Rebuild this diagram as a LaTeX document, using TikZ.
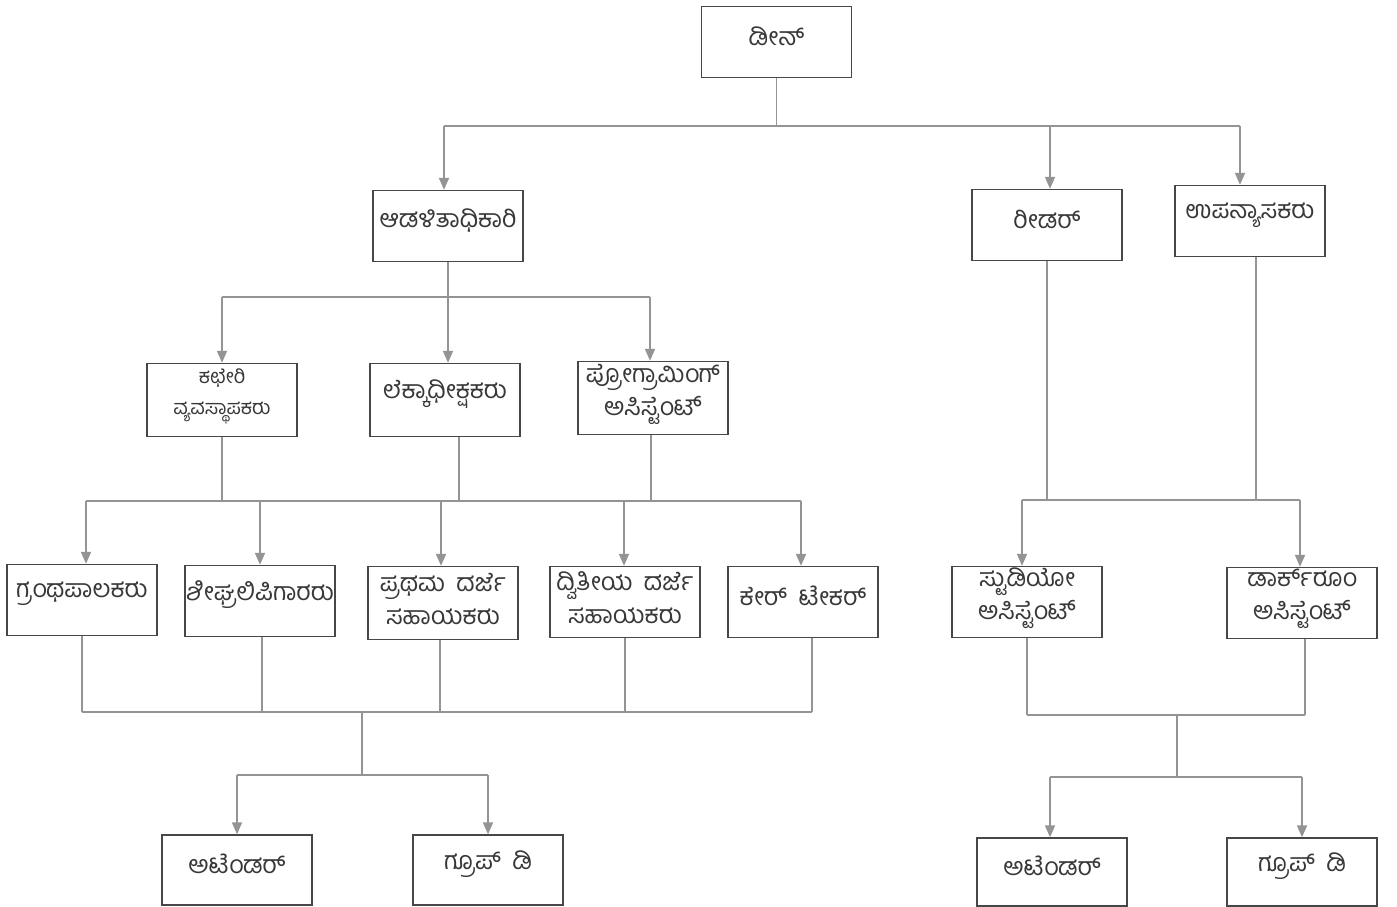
\documentclass[tikz,border=0pt]{standalone}
\usepackage{fontspec}
\newfontfamily\kn[Script=Kannada]{Hind Mysuru}
\usetikzlibrary{arrows.meta}
\newcommand{\wsp}{\hspace{0.45em}}
\begin{document}
\begin{tikzpicture}[x=1pt,y=-1pt,
  box/.style={draw=black!72,line width=1.4pt,minimum width=150pt,minimum height=71pt,inner sep=0pt},
  lbl/.style={inner sep=0pt,align=center,font=\kn\fontsize{25}{33}\selectfont,text=black!78,yshift=6pt},
  lbltwo/.style={lbl,yshift=-2pt},
  lblsmall/.style={lbl,font=\kn\fontsize{20}{31}\selectfont,yshift=-2pt},
  conn/.style={draw=black!42,line width=1.8pt},
  arr/.style={conn,-{Triangle[width=10pt,length=12pt]}}]
\useasboundingbox (0,0) rectangle (1397,906);
\fill[white] (0,0) rectangle (1397,906);
% boxes
\node[box,label={[lbl]center:ಡೀನ್}] (dean) at (776.5,42) {};
\node[box,label={[lbl]center:ಆಡಳಿತಾಧಿಕಾರಿ}] (admin) at (448,226) {};
\node[box,label={[lbl]center:ರೀಡರ್}] (reader) at (1047,225) {};
\node[box,label={[lbl]center:ಉಪನ್ಯಾಸಕರು}] (lect) at (1250,221) {};
\node[box,minimum height=73pt,label={[lblsmall]center:ಕಛೇರಿ\\ವ್ಯವಸ್ಥಾಪಕರು}] (office) at (222,400) {};
\node[box,minimum height=73pt,label={[lbl]center:ಲೆಕ್ಕಾಧೀಕ್ಷಕರು}] (acct) at (445,400) {};
\node[box,minimum height=73pt,label={[lbltwo]center:ಪ್ರೋಗ್ರಾಮಿಂಗ್\\ಅಸಿಸ್ಟೆಂಟ್}] (prog) at (653,398) {};
\node[box,label={[lbl]center:ಗ್ರಂಥಪಾಲಕರು}] (lib) at (82,600) {};
\node[box,label={[lbl]center:ಶೀಘ್ರಲಿಪಿಗಾರರು}] (steno) at (260,601) {};
\node[box,minimum height=73pt,label={[lbltwo]center:ಪ್ರಥಮ\wsp ದರ್ಜೆ\\ಸಹಾಯಕರು}] (fda) at (443,603) {};
\node[box,label={[lbltwo]center:ದ್ವಿತೀಯ\wsp ದರ್ಜೆ\\ಸಹಾಯಕರು}] (sda) at (625,602) {};
\node[box,label={[lbl]center:ಕೇರ್\wsp ಟೇಕರ್}] (care) at (803,602) {};
\node[box,label={[lbltwo]center:ಸ್ಟುಡಿಯೋ\\ಅಸಿಸ್ಟೆಂಟ್}] (studio) at (1027,602) {};
\node[box,label={[lbltwo]center:ಡಾರ್ಕ್‌ರೂಂ\\ಅಸಿಸ್ಟೆಂಟ್}] (dark) at (1302,603) {};
\node[box,minimum height=70pt,label={[lbl]center:ಅಟೆಂಡರ್}] (att1) at (237,870) {};
\node[box,minimum height=70pt,label={[lbl]center:ಗ್ರೂಪ್\wsp ಡಿ}] (grp1) at (488,870) {};
\node[box,minimum height=68pt,label={[lbl]center:ಅಟೆಂಡರ್}] (att2) at (1052,872) {};
\node[box,minimum height=68pt,label={[lbl]center:ಗ್ರೂಪ್\wsp ಡಿ}] (grp2) at (1302,872) {};
% junction coordinates
\coordinate (j1) at (776.5,126);
\coordinate (j2) at (448,297);
\coordinate (j3) at (459,501);
\coordinate (j4) at (362,712);
\coordinate (j5) at (362,775);
\coordinate (j6) at (1150,500);
\coordinate (j7) at (1177,715);
\coordinate (j8) at (1177,777);
% level 1
\draw[conn] (dean.south) -- (j1);
\draw[conn] ([xshift=-4pt]admin.north |- j1) -- ([xshift=-10pt]lect.north |- j1);
\draw[arr] ([xshift=-4pt]admin.north |- j1) -- ([xshift=-4pt]admin.north);
\draw[arr] ([xshift=3pt]reader.north |- j1) -- ([xshift=3pt]reader.north);
\draw[arr] ([xshift=-10pt]lect.north |- j1) -- ([xshift=-10pt]lect.north);
% level 2
\draw[conn] (admin.south) -- (j2);
\draw[conn] (office.north |- j2) -- ([xshift=-3pt]prog.north |- j2);
\draw[arr] (office.north |- j2) -- (office.north);
\draw[arr] ([xshift=3pt]acct.north |- j2) -- ([xshift=3pt]acct.north);
\draw[arr] ([xshift=-3pt]prog.north |- j2) -- ([xshift=-3pt]prog.north);
% level 3
\draw[conn] (office.south) -- (office.south |- j3);
\draw[conn] ([xshift=14pt]acct.south) -- (j3);
\draw[conn] ([xshift=-2pt]prog.south) -- ([xshift=-2pt]prog.south |- j3);
\draw[conn] ([xshift=4pt]lib.north |- j3) -- ([xshift=-2pt]care.north |- j3);
\draw[arr] ([xshift=4pt]lib.north |- j3) -- ([xshift=4pt]lib.north);
\draw[arr] (steno.north |- j3) -- (steno.north);
\draw[arr] ([xshift=-2pt]fda.north |- j3) -- ([xshift=-2pt]fda.north);
\draw[arr] ([xshift=-1pt]sda.north |- j3) -- ([xshift=-1pt]sda.north);
\draw[arr] ([xshift=-2pt]care.north |- j3) -- ([xshift=-2pt]care.north);
% level 4 left
\draw[conn] (lib.south) -- (lib.south |- j4);
\draw[conn] ([xshift=2pt]steno.south) -- ([xshift=2pt]steno.south |- j4);
\draw[conn] ([xshift=-3pt]fda.south) -- ([xshift=-3pt]fda.south |- j4);
\draw[conn] (sda.south) -- (sda.south |- j4);
\draw[conn] ([xshift=9pt]care.south) -- ([xshift=9pt]care.south |- j4);
\draw[conn] (lib.south |- j4) -- ([xshift=9pt]care.south |- j4);
\draw[conn] (j4) -- (j5);
\draw[conn] (att1.north |- j5) -- (grp1.north |- j5);
\draw[arr] (att1.north |- j5) -- (att1.north);
\draw[arr] (grp1.north |- j5) -- (grp1.north);
% right side
\draw[conn] (reader.south) -- (reader.south |- j6);
\draw[conn] ([xshift=6pt]lect.south) -- ([xshift=6pt]lect.south |- j6);
\draw[conn] ([xshift=-5pt]studio.north |- j6) -- ([xshift=-2pt]dark.north |- j6);
\draw[arr] ([xshift=-5pt]studio.north |- j6) -- ([xshift=-5pt]studio.north);
\draw[arr] ([xshift=-2pt]dark.north |- j6) -- ([xshift=-2pt]dark.north);
\draw[conn] (studio.south) -- (studio.south |- j7);
\draw[conn] ([xshift=3pt]dark.south) -- ([xshift=3pt]dark.south |- j7);
\draw[conn] (studio.south |- j7) -- ([xshift=3pt]dark.south |- j7);
\draw[conn] (j7) -- (j8);
\draw[conn] ([xshift=-2pt]att2.north |- j8) -- (grp2.north |- j8);
\draw[arr] ([xshift=-2pt]att2.north |- j8) -- ([xshift=-2pt]att2.north);
\draw[arr] (grp2.north |- j8) -- (grp2.north);
\end{tikzpicture}
\end{document}
